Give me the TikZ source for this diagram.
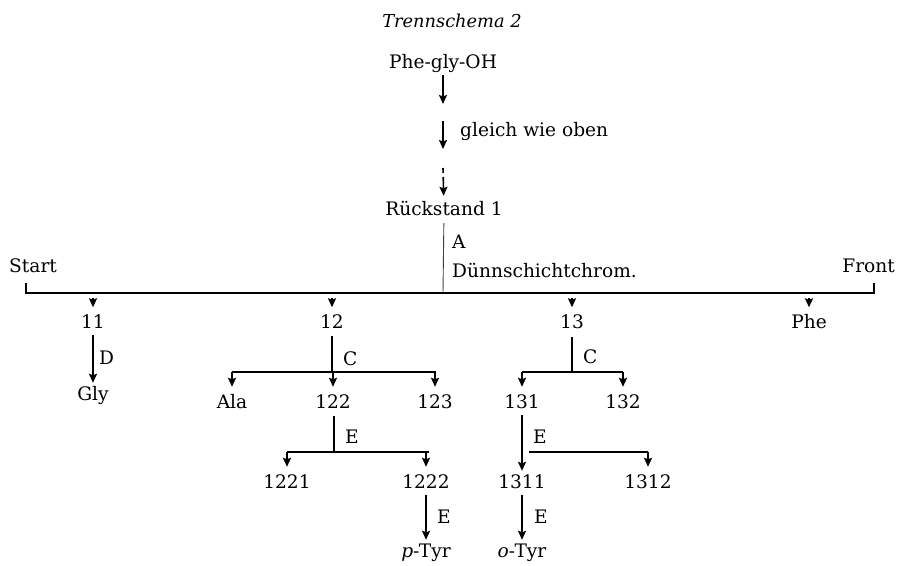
\documentclass[tikz,border=0pt]{standalone}
\usepackage{fontspec}
\setmainfont{DejaVu Serif}
\usetikzlibrary{arrows.meta,calc}
\begin{document}
\begin{tikzpicture}[x=1pt,y=-1pt,
  txt/.style={font=\fontsize{18.6}{22}\selectfont, inner sep=0pt, text height=14pt, text depth=4pt, anchor=base},
  lab/.style={font=\fontsize{18.6}{22}\selectfont, inner sep=0pt, anchor=base west},
  ln/.style={line width=1.6pt},
  arr/.style={ln, -{Stealth[length=9pt,width=8pt,inset=1.5pt]}},
  longarr/.style={arr, shorten <=3pt, shorten >=3pt},
  droparr/.style={arr, shorten <=5pt, shorten >=6.5pt},
  brarr/.style={arr, shorten >=7pt},
  stem/.style={ln, shorten <=4pt}]
\useasboundingbox (0,0) rectangle (897,565);

% head of the scheme
\node[txt, font=\fontsize{17.8}{21}\selectfont\itshape] (title) at (452,27) {Trennschema 2};
\node[txt] (phe) at (443,68) {Phe-gly-OH};
\coordinate (a1) at (443,104);
\coordinate (a2s) at (443,121);
\coordinate (a2e) at (443,149);
\coordinate (a3s) at (443,168);
\node[lab] (gleich) at (460,136) {gleich wie oben};
\node[txt] (rueck) at (444,215) {R\"uckstand 1};
\node[lab] (labA) at (452,248) {A};
\node[lab] (duenn) at (452,277) {D\"unnschichtchrom.};

\draw[longarr, shorten >=0pt] (phe) -- (a1);
\draw[arr] (a2s) -- (a2e);
\draw[arr, shorten >=5pt, dash pattern=on 5pt off 4pt on 30pt] (a3s) -- (rueck);

% the chromatogram bar
\node[lab] (start) at (9,272) {Start};
\node[txt, anchor=base east] (front) at (895,272) {Front};
\coordinate (bl) at (26,293);
\coordinate (br) at (874,293);
\coordinate (bm) at (443,293);
\draw[line width=0.9pt, black!75, shorten <=4pt] (rueck) -- (bm);
\draw[line width=2pt] ($(bl)+(0,-10)$) -- (bl) -- (br) -- ($(br)+(0,-10)$);

% fractions on the plate
\node[txt] (n11) at (93,328) {11};
\node[txt] (n12) at (332,328) {12};
\node[txt] (n13) at (572,328) {13};
\node[txt] (pheF) at (809,328) {Phe};
\foreach \n in {n11,n12,n13,pheF}
  \draw[droparr] (\n |- bl) -- (\n);

% fraction 11
\node[txt] (gly) at (93,400) {Gly};
\node[lab] (labD) at (99,364) {D};
\draw[longarr] (n11) -- (gly);

% fraction 12
\coordinate (j12) at (332,372);
\coordinate (j12l) at (232,372);
\coordinate (j12r) at (436,372);
\node[lab] (labC1) at (343,365) {C};
\node[txt] (ala) at (232,408) {Ala};
\node[txt] (n122) at (333,408) {122};
\node[txt] (n123) at (435,408) {123};
\draw[stem] (n12) -- (j12);
\draw[ln] (j12l) -- (j12r);
\foreach \n in {ala,n122,n123}
  \draw[brarr] (\n |- j12) -- (\n);

\coordinate (j122) at (334,452);
\coordinate (j122l) at (287,452);
\coordinate (j122r) at (429,452);
\node[lab] (labE1) at (345,443) {E};
\node[txt] (n1221) at (287,488) {1221};
\node[txt] (n1222) at (426,488) {1222};
\draw[stem] (n122.south -| j122) -- (j122);
\draw[ln] (j122l) -- (j122r);
\foreach \n in {n1221,n1222}
  \draw[brarr] (\n |- j122) -- (\n);

\node[lab] (labE2) at (437,523) {E};
\node[txt] (ptyr) at (426,557) {\textit{p}-Tyr};
\draw[longarr] (n1222) -- (ptyr);

% fraction 13
\coordinate (j13) at (572,372);
\coordinate (j13l) at (522,372);
\coordinate (j13r) at (623,372);
\node[lab] (labC2) at (583,363) {C};
\node[txt] (n131) at (522,408) {131};
\node[txt] (n132) at (623,408) {132};
\draw[stem, shorten <=5pt] (n13) -- (j13);
\draw[ln] (j13l) -- (j13r);
\foreach \n in {n131,n132}
  \draw[brarr] (\n |- j13) -- (\n);

\coordinate (j131l) at (529,452);
\coordinate (j131r) at (648,452);
\node[lab] (labE3) at (533,443) {E};
\node[txt] (n1311) at (522,488) {1311};
\node[txt] (n1312) at (648,488) {1312};
\draw[longarr] (n131) -- (n1311);
\draw[ln] (j131l) -- (j131r);
\draw[brarr] (n1312 |- j131r) -- (n1312);

\node[lab] (labE4) at (534,523) {E};
\node[txt] (otyr) at (522,557) {\textit{o}-Tyr};
\draw[longarr] (n1311) -- (otyr);
\end{tikzpicture}
\end{document}
